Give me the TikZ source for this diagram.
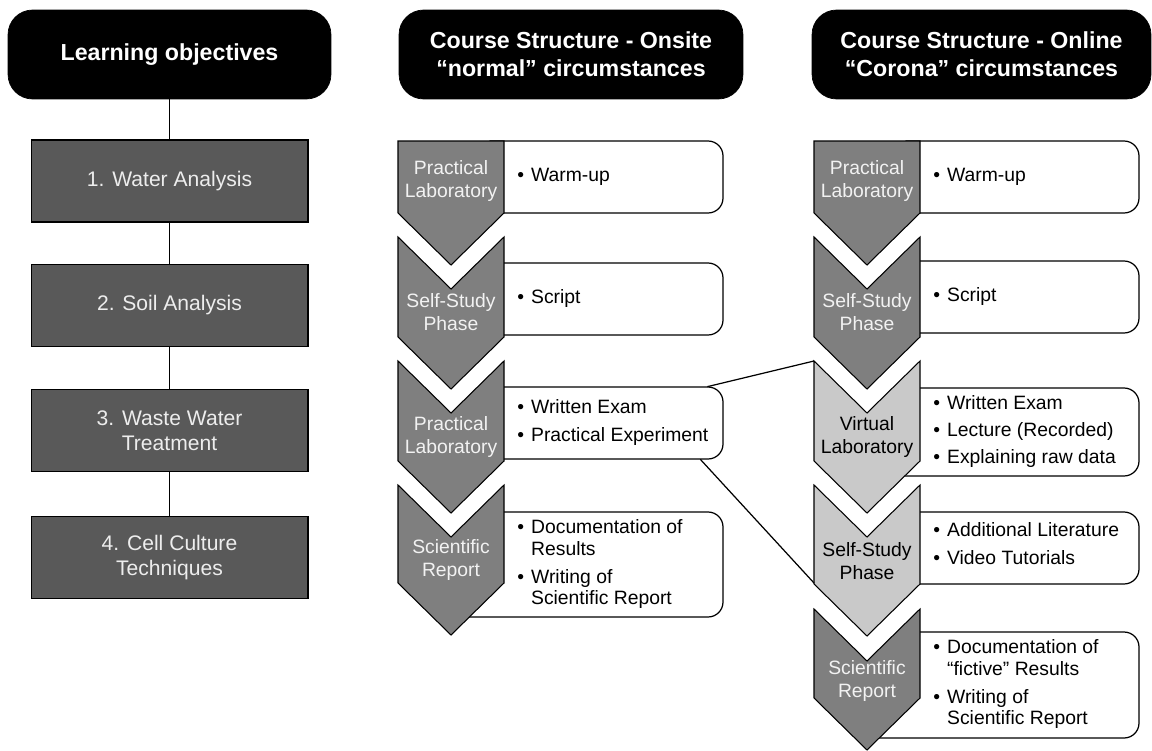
\documentclass[tikz,border=0pt]{standalone}
\usepackage{fontspec}
\setmainfont{Liberation Sans}
\usetikzlibrary{fit,calc}
\definecolor{objgray}{HTML}{595959}
\definecolor{chevdark}{HTML}{7F7F7F}
\definecolor{chevlight}{HTML}{C9C9C9}
\newcommand{\chevfirst}[4]{\draw[#1] (#2,#3) -- (#2+106,#3) -- (#2+106,#4) -- (#2+53,#4+52) -- (#2,#4) -- cycle;}
\newcommand{\chevnext}[4]{\draw[#1] (#2,#3) -- (#2+53,#3+52) -- (#2+106,#3) -- (#2+106,#4) -- (#2+53,#4+52) -- (#2,#4) -- cycle;}
\newcommand{\listbox}[5]{\node[boxfit, fit={(#2,#4) (#3,#5)}] (#1) {};
  \draw[boxline] (#2+39,#4) -- (#3-15,#4) arc[start angle=90, end angle=0, radius=0.3cm] -- (#3,#5-15) arc[start angle=0, end angle=-90, radius=0.3cm] -- (#2,#5) -- cycle;}

\begin{document}
\begin{tikzpicture}[x=0.02cm, y=-0.02cm,
  header/.style={draw=black, fill=black, rounded corners=14pt, inner sep=0pt, minimum height=1.78cm, text=white, align=center, font=\fontsize{13.2pt}{15.9pt}\selectfont\bfseries},
  objbox/.style={draw=black, fill=objgray, line width=0.6pt, inner sep=0pt, minimum width=5.54cm, minimum height=1.64cm, text=white!93!black, align=center, font=\fontsize{12pt}{14.2pt}\selectfont},
  boxfit/.style={inner sep=0pt},
  boxline/.style={draw=black, fill=white, line width=0.7pt},
  listtext/.style={anchor=west, inner sep=0pt, font=\fontsize{11pt}{12.5pt}\selectfont},
  chevdk/.style={draw=black, fill=chevdark, line width=0.6pt},
  chevlt/.style={draw=black, fill=chevlight, line width=0.6pt},
  chevtxt/.style={align=center, inner sep=0pt, text=white!95!black, font=\fontsize{11pt}{12.8pt}\selectfont},
  link/.style={draw=black, line width=0.7pt}]
\useasboundingbox (0,0) rectangle (1152,750);

\node[header, minimum width=6.46cm] (h0) at (169.5,54.5) {Learning objectives};
\node[header, minimum width=6.88cm] (h1) at (571,54.5) {Course Structure - Onsite\\“normal” circumstances};
\node[header, minimum width=6.78cm] (h2) at (981.5,54.5) {Course Structure - Online\\“Corona” circumstances};

\node[objbox] (lo1) at (169.5,181) {1. Water Analysis};
\node[objbox] (lo2) at (169.5,305.5) {2. Soil Analysis};
\node[objbox] (lo3) at (169.5,430.5) {3. Waste Water\\Treatment};
\node[objbox] (lo4) at (169.5,557.5) {4. Cell Culture\\Techniques};
\draw[link] (h0) -- (lo1);
\draw[link] (lo1) -- (lo2);
\draw[link] (lo2) -- (lo3);
\draw[link] (lo3) -- (lo4);

\listbox{mb1}{451}{723}{141}{213}
\listbox{mb2}{451}{723}{263}{335}
\listbox{mb3}{451}{723}{387}{459}
\listbox{mb4}{451}{723}{512}{617}
\listbox{rb1}{867}{1139}{141}{213}
\listbox{rb2}{867}{1139}{261}{333}
\listbox{rb3}{867}{1139}{388}{476}
\listbox{rb4}{867}{1139}{512}{584}
\listbox{rb5}{867}{1139}{632}{738}

\chevfirst{chevdk}{398}{141}{213}
\chevnext{chevdk}{398}{237}{337}
\chevnext{chevdk}{398}{361}{461}
\chevnext{chevdk}{398}{485}{583}
\chevfirst{chevdk}{814}{141}{213}
\chevnext{chevdk}{814}{237}{337}
\chevnext{chevlt}{814}{361}{461}
\chevnext{chevlt}{814}{485}{584}
\chevnext{chevdk}{814}{609}{698}

\node[chevtxt] (ml1) at (451,181) {Practical\\Laboratory};
\node[chevtxt] (ml2) at (451,312) {Self-Study\\Phase};
\node[chevtxt] (ml3) at (451,437) {Practical\\Laboratory};
\node[chevtxt] (ml4) at (451,560) {Scientific\\Report};
\node[chevtxt] (rl1) at (867,181) {Practical\\Laboratory};
\node[chevtxt] (rl2) at (867,312) {Self-Study\\Phase};
\node[chevtxt, text=black] (rl3) at (867,437) {Virtual\\Laboratory};
\node[chevtxt, text=black] (rl4) at (867,561) {Self-Study\\Phase};
\node[chevtxt] (rl5) at (867,681) {Scientific\\Report};

\node[listtext] (mt1) at (517,177) {\begin{tabular}{@{}l@{\hspace{4pt}}l@{}}\textbullet & Warm-up\end{tabular}};
\node[listtext] (mt2) at (517,299) {\begin{tabular}{@{}l@{\hspace{4pt}}l@{}}\textbullet & Script\end{tabular}};
\node[listtext] (mt3) at (517,423) {\begin{tabular}{@{}l@{\hspace{4pt}}l@{}}\textbullet & Written Exam\\[3pt] \textbullet & Practical Experiment\end{tabular}};
\node[listtext] (mt4) at (517,565) {\begin{tabular}{@{}l@{\hspace{4pt}}l@{}}\textbullet & Documentation of\\ & Results\\[3pt] \textbullet & Writing of\\ & Scientific Report\end{tabular}};
\node[listtext] (rt1) at (933,177) {\begin{tabular}{@{}l@{\hspace{4pt}}l@{}}\textbullet & Warm-up\end{tabular}};
\node[listtext] (rt2) at (933,297) {\begin{tabular}{@{}l@{\hspace{4pt}}l@{}}\textbullet & Script\end{tabular}};
\node[listtext] (rt3) at (933,432) {\begin{tabular}{@{}l@{\hspace{4pt}}l@{}}\textbullet & Written Exam\\[3pt] \textbullet & Lecture (Recorded)\\[3pt] \textbullet & Explaining raw data\end{tabular}};
\node[listtext] (rt4) at (933,546) {\begin{tabular}{@{}l@{\hspace{4pt}}l@{}}\textbullet & Additional Literature\\[3pt] \textbullet & Video Tutorials\end{tabular}};
\node[listtext] (rt5) at (933,685) {\begin{tabular}{@{}l@{\hspace{4pt}}l@{}}\textbullet & Documentation of\\ & “fictive” Results\\[3pt] \textbullet & Writing of\\ & Scientific Report\end{tabular}};

\coordinate (rc3) at (814,361);
\coordinate (rc4) at (814,583);
\draw[link] ($(mb3.north east)+(-16,0)$) -- (rc3);
\draw[link] ($(mb3.south east)+(-23,0)$) -- (rc4);
\end{tikzpicture}
\end{document}
